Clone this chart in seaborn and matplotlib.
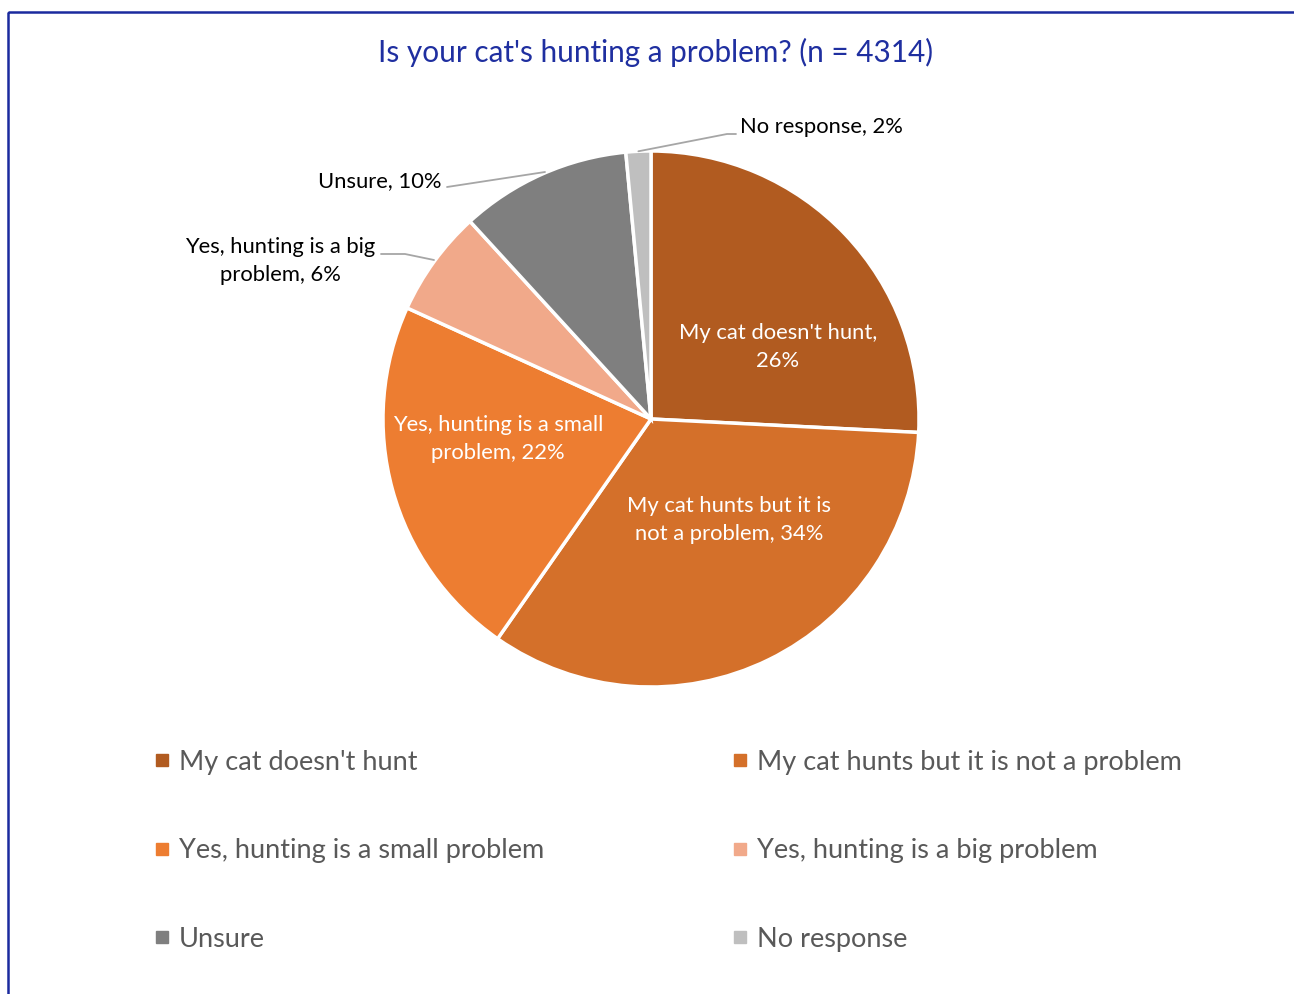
import numpy as np
import matplotlib.pyplot as plt
import seaborn as sns
from matplotlib.lines import Line2D
from matplotlib.patches import Rectangle

sns.set_theme(style='white')
plt.rcParams['font.family'] = ['Lato', 'DejaVu Sans']

categories = ["My cat doesn't hunt", "My cat hunts but it is not a problem",
              "Yes, hunting is a small problem", "Yes, hunting is a big problem",
              "Unsure", "No response"]
# slice sizes; labels show the rounded percentages
shares = [25.8, 33.9, 22.1, 6.4, 10.3, 1.5]
pct_labels = [26, 34, 22, 6, 10, 2]
colors = ['#B15B20', '#D4702A', '#ED7D31', '#F1A98A', '#7F7F7F', '#BFBFBF']
title = "Is your cat's hunting a problem? (n = 4314)"

W, H = 1294, 994
fig = plt.figure(figsize=(W / 100, H / 100), dpi=100)
# axes in pixel units, y measured downward from top
ax = fig.add_axes([0, 0, 1, 1])

cx, cy, R = 651, 419, 268
# y axis is inverted, so counterclock=True draws clockwise on screen; start at 12 o'clock
wedges, _ = ax.pie(shares, colors=colors, startangle=-90, counterclock=True,
                   center=(cx, cy), radius=R, frame=True,
                   wedgeprops=dict(edgecolor='white', linewidth=2.5))
ax.set_xlim(0, W)
ax.set_ylim(H, 0)
ax.axis('off')

# frame lines (left and top)
ax.add_patch(Rectangle((8, 12), W, H, fill=False, edgecolor='#1A2A9E', linewidth=1.8,
                       clip_on=False))

fig.text(656 / W, 1 - 52 / H, title, ha='center', va='center', fontsize=21.4,
         color='#1F2FA0')

lab_size = 15.8
# inside labels
inside = {0: (778, 347, "My cat doesn't hunt,\n{}%"),
          1: (729, 520, "My cat hunts but it is\nnot a problem, {}%"),
          2: (498, 439, "Yes, hunting is a small\nproblem, {}%")}
for i, (x, y, fmt) in inside.items():
    ax.text(x, y, fmt.format(pct_labels[i]), ha='center', va='center', color='white',
            fontsize=lab_size, linespacing=1.45)

# outside labels with leader lines
def edge_point(i, frac=0.5):
    w = wedges[i]
    ang = np.deg2rad(w.theta1 + frac * (w.theta2 - w.theta1))
    return cx + R * np.cos(ang), cy + R * np.sin(ang)

lab_kw = dict(fontsize=lab_size, color='black', linespacing=1.45)
line_kw = dict(color='#A6A6A6', lw=1.3)

x0, y0 = edge_point(5)
ax.plot([x0, 727, 736], [y0, 134, 134], **line_kw)
ax.text(740, 127, f"{categories[5]}, {pct_labels[5]}%", ha='left', va='center', **lab_kw)

ax.plot([545, 447], [172, 187], **line_kw)
ax.text(441, 181, f"{categories[4]}, {pct_labels[4]}%", ha='right', va='center', **lab_kw)

ax.plot([381, 405, 434], [254, 254, 260], **line_kw)
ax.text(280, 261, f"Yes, hunting is a big\nproblem, {pct_labels[3]}%", ha='center',
        va='center', **lab_kw)

# legend, row-wise order
handles = [Line2D([], [], marker='s', linestyle='none', markersize=9,
                  markerfacecolor=c, markeredgecolor=c) for c in colors]
order = [0, 2, 4, 1, 3, 5]
leg = fig.legend([handles[i] for i in order], [categories[i] for i in order],
                 ncol=2, loc='upper left', bbox_to_anchor=(144 / W, 1 - 739 / H),
                 frameon=False, fontsize=19.5, labelcolor='#595959',
                 handlelength=0.5, handletextpad=0.38, labelspacing=2.34,
                 columnspacing=6.98, borderaxespad=0)

fig.savefig('out.png', dpi=100)
